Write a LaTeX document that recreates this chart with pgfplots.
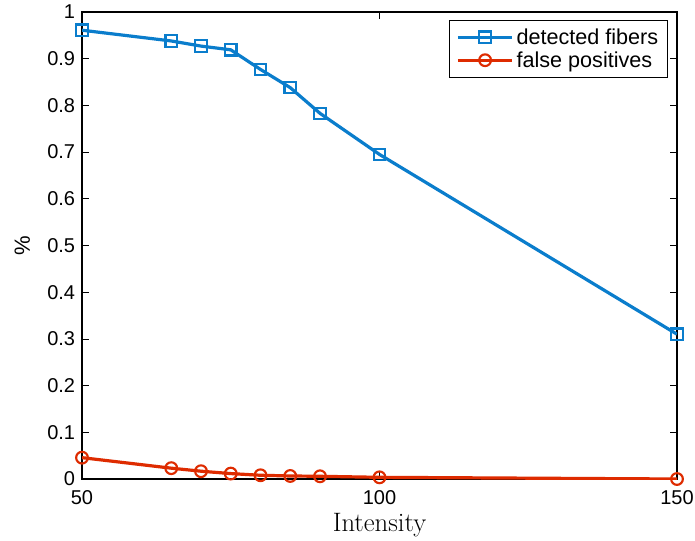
\documentclass[border=0pt]{standalone}
\usepackage{pgfplots}
\pgfplotsset{compat=1.18}
\usepackage{fontspec}
\setsansfont{Liberation Sans}
\definecolor{detblue}{rgb}{0.04,0.49,0.80}
\definecolor{fpred}{rgb}{0.87,0.17,0.0}

\begin{document}
\begin{tikzpicture}
\begin{axis}[
  name=ax,
  scale only axis,
  width=446.25pt, height=350.25pt,
  xmin=50, xmax=150, ymin=0, ymax=1,
  xtick={50,100,150},
  ytick={0,0.1,0.2,0.3,0.4,0.5,0.6,0.7,0.8,0.9,1},
  yticklabels={0,0.1,0.2,0.3,0.4,0.5,0.6,0.7,0.8,0.9,1},
  xticklabels={50,100,150},
  tick align=inside,
  tick pos=both,
  major tick length=5pt,
  tick style={black, line width=0.6pt},
  axis line style={black, line width=1pt},
  ticklabel style={font=\sffamily\fontsize{15}{18}\selectfont, inner sep=0.5pt},
  yticklabel style={xshift=-4.5pt},
  xticklabel style={yshift=-8pt},
  xlabel={Intensity},
  xlabel style={font=\fontsize{20}{23}\selectfont, yshift=-2.5pt},
  ylabel={\%},
  ylabel style={font=\sffamily\fontsize{16.5}{19}\selectfont, yshift=9pt},
  legend style={
    at={(1,1)}, anchor=north east,
    xshift=-6.75pt, yshift=-6pt,
    draw=black, line width=0.6pt,
    font=\sffamily\fontsize{16.2}{18.75}\selectfont,
    inner xsep=5pt, inner ysep=4pt,
    row sep=0pt,
  },
  legend cell align=left,
  legend image code/.code={%
    \draw[mark repeat=2,mark phase=2,#1]
      plot coordinates {(0cm,0cm) (0.72cm,0cm) (1.44cm,0cm)};},
  legend image post style={line width=2.25pt},
]
\addplot[detblue, line width=2.4pt, mark=square,
  mark size=4.3pt, mark options={line width=1.6pt, solid}]
  coordinates {
  (50,0.961) (65,0.938) (70,0.927) (75,0.919) (80,0.877)
  (85,0.838) (90,0.783) (100,0.695) (150,0.310)
  };
\addlegendentry{detected fibers}
\addplot[fpred, line width=2.4pt, mark=o,
  mark size=4.4pt, mark options={line width=1.6pt, solid}]
  coordinates {
  (50,0.0457) (65,0.0232) (70,0.0167) (75,0.0116) (80,0.0080)
  (85,0.0065) (90,0.0058) (100,0.0036) (150,0.0)
  };
\addlegendentry{false positives}
\end{axis}
\pgfresetboundingbox
\path[use as bounding box]
  ([shift={(-61.5pt,-45.75pt)}]ax.south west)
  rectangle ([shift={(13.5pt,9pt)}]ax.north east);
\end{tikzpicture}
\end{document}
